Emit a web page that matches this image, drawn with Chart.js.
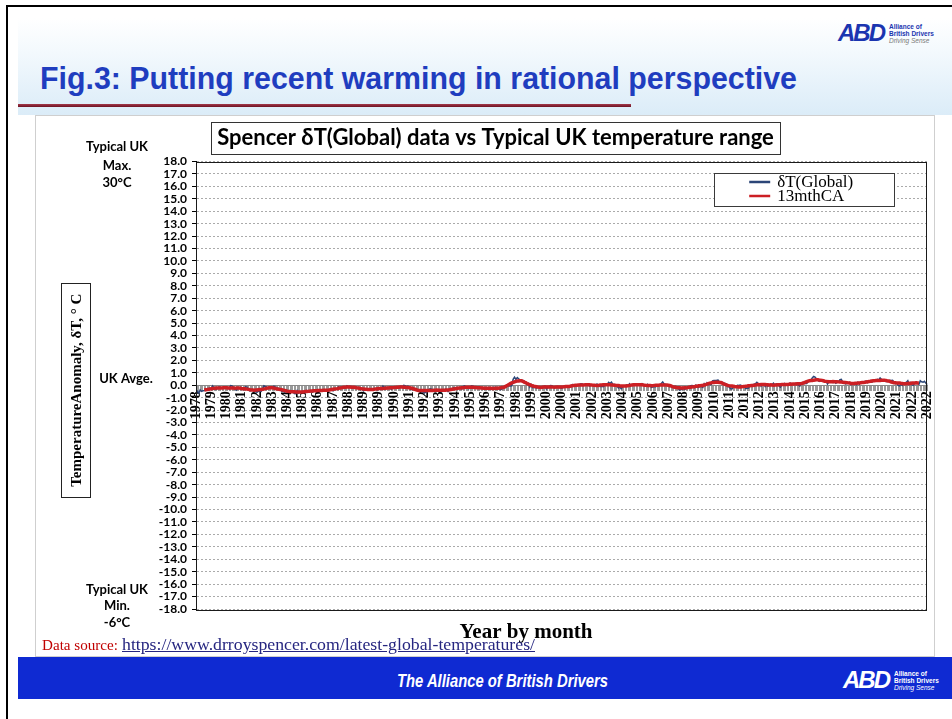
<!DOCTYPE html>
<html>
<head>
<meta charset="utf-8">
<title>Fig.3: Putting recent warming in rational perspective</title>
<script src="https://cdn.jsdelivr.net/npm/chart.js@4.4.1/dist/chart.umd.min.js"></script>
<style>
  body { margin: 0; background: #fff; }
  #page { position: relative; width: 952px; height: 719px; overflow: hidden; font-family: 'Liberation Sans', Arial, sans-serif; }
  .abs { position: absolute; white-space: nowrap; }
  .fit { display: inline-block; transform-origin: 0 0; }
  #frame { left: 6px; top: 5px; width: 960px; height: 730px; border-left: 2px solid #000; border-top: 2px solid #000; }
  #band { left: 18px; top: 18px; width: 934px; height: 97px; background: linear-gradient(#ffffff 0%, #f3f9fd 35%, #dbecf8 100%); }
  #fig { left: 40px; top: 63px; font: bold 31px/31px 'Liberation Sans', Arial, sans-serif; color: #1f3dbf; }
  #rule { left: 18px; top: 104px; width: 613px; height: 3px; background: linear-gradient(#a3394a, #6c1222); }
  #panel { left: 35px; top: 115px; width: 898px; height: 540px; border: 1px solid #cfcfcf; background: #fff; }
  #chartBox { left: 35px; top: 115px; width: 910px; height: 542px; }
  #srcLabel { left: 42px; top: 638px; font: 14px 'Liberation Serif', serif; color: #c00000; }
  #srcUrl { left: 122px; top: 635px; font: 17px 'Liberation Serif', serif; color: #262680; }
  #urlText { text-decoration: underline; }
  #footer { left: 18px; top: 657px; width: 934px; height: 42px; background: #0f2ad2; }
  #footText { left: 397px; top: 671px; font: italic bold 19px/19px 'Liberation Sans', Arial, sans-serif; color: #fff; }
  .logo { display: flex; align-items: center; }
  .logo .abd { font: italic bold 24px/24px 'Liberation Sans', Arial, sans-serif; letter-spacing: -2px; margin-right: 5px; }
  .logo .small { font: bold 6.5px/7px 'Liberation Sans', Arial, sans-serif; }
  .logo .small i { font-weight: normal; }
</style>
</head>
<body>
<div id="page">
  <div id="frame" class="abs"></div>
  <div id="band" class="abs"></div>
  <div class="abs logo" style="left:838px;top:21px;color:#1b35b0">
    <span class="abd">ABD</span>
    <span class="small">Alliance of<br>British Drivers<br><i style="color:#7a7a7a">Driving Sense</i></span>
  </div>
  <div id="fig" class="abs"><span id="figText" class="fit">Fig.3: Putting recent warming in rational perspective</span></div>
  <div id="rule" class="abs"></div>
  <div id="panel" class="abs"></div>
  <div id="chartBox" class="abs"><canvas id="c" width="910" height="542"></canvas></div>
  <div id="srcLabel" class="abs"><span id="srcSpan" class="fit">Data source:</span></div>
  <div id="srcUrl" class="abs"><span id="urlText" class="fit">https://www.drroyspencer.com/latest-global-temperatures/</span></div>
  <div id="footer" class="abs"></div>
  <div id="footText" class="abs"><span id="footSpan" class="fit">The Alliance of British Drivers</span></div>
  <div class="abs logo" style="left:843px;top:668px;color:#fff">
    <span class="abd">ABD</span>
    <span class="small">Alliance of<br>British Drivers<br><i>Driving Sense</i></span>
  </div>
</div>
<script>
// Spencer (UAH) global lower-troposphere anomaly, monthly, Dec 1978 - Dec 2022
const deltaT = [
  -0.48, // 1978 Dec
  -0.47, -0.64, -0.38, -0.50, -0.45, -0.43, -0.40, -0.35, -0.30, -0.23, -0.32, -0.06, // 1979
  -0.19, -0.33, -0.31, -0.18, -0.15, -0.23, -0.21, -0.26, -0.22, -0.26, -0.18, -0.30, // 1980
  -0.03, -0.05, -0.20, -0.29, -0.39, -0.28, -0.24, -0.17, -0.27, -0.36, -0.24, -0.11, // 1981
  -0.16, -0.36, -0.46, -0.36, -0.34, -0.49, -0.47, -0.56, -0.49, -0.47, -0.49, -0.36, // 1982
  -0.05, -0.10, -0.14, -0.21, -0.17, -0.23, -0.20, -0.09, -0.10, -0.30, -0.22, -0.35, // 1983
  -0.34, -0.50, -0.46, -0.55, -0.38, -0.52, -0.44, -0.43, -0.49, -0.50, -0.67, -0.68, // 1984
  -0.44, -0.63, -0.55, -0.55, -0.50, -0.58, -0.58, -0.42, -0.49, -0.47, -0.53, -0.47, // 1985
  -0.36, -0.47, -0.42, -0.36, -0.43, -0.40, -0.46, -0.45, -0.41, -0.39, -0.46, -0.44, // 1986
  -0.37, -0.28, -0.45, -0.32, -0.28, -0.25, -0.13, -0.17, -0.18, -0.24, -0.23, -0.16, // 1987
  -0.05, -0.18, -0.10, -0.10, -0.12, -0.13, -0.13, -0.16, -0.18, -0.19, -0.36, -0.28, // 1988
  -0.46, -0.36, -0.40, -0.34, -0.40, -0.40, -0.29, -0.30, -0.26, -0.28, -0.37, -0.30, // 1989
  -0.32, -0.32, -0.07, -0.20, -0.15, -0.21, -0.23, -0.26, -0.33, -0.18, -0.16, -0.17, // 1990
  -0.18, -0.15, -0.21, -0.07, -0.14, -0.01, -0.04, -0.12, -0.08, -0.21, -0.33, -0.35, // 1991
  -0.24, -0.36, -0.29, -0.41, -0.34, -0.39, -0.54, -0.54, -0.62, -0.54, -0.52, -0.36, // 1992
  -0.29, -0.31, -0.35, -0.37, -0.36, -0.37, -0.40, -0.45, -0.52, -0.49, -0.49, -0.32, // 1993
  -0.38, -0.51, -0.34, -0.30, -0.33, -0.21, -0.24, -0.28, -0.27, -0.24, -0.21, -0.29, // 1994
  -0.09, -0.05, -0.18, -0.18, -0.28, -0.15, -0.05, -0.07, -0.15, -0.16, -0.17, -0.25, // 1995
  -0.19, -0.21, -0.26, -0.28, -0.30, -0.26, -0.24, -0.27, -0.22, -0.28, -0.18, -0.16, // 1996
  -0.27, -0.21, -0.31, -0.35, -0.29, -0.20, -0.17, -0.14, -0.02, -0.06, -0.06, -0.05, // 1997
   0.48,  0.65,  0.47,  0.62,  0.52,  0.42,  0.41,  0.39,  0.33,  0.25,  0.06,  0.14, // 1998
  -0.14,  0.05, -0.19, -0.17, -0.18, -0.22, -0.17, -0.17, -0.16, -0.11, -0.14, -0.07, // 1999
  -0.29, -0.20, -0.15, -0.03, -0.04, -0.14, -0.17, -0.14, -0.11, -0.18, -0.20, -0.24, // 2000
  -0.19, -0.12, -0.14, -0.08, -0.07, -0.05, -0.02,  0.06, -0.07, -0.05, -0.02, -0.02, // 2001
   0.06,  0.12,  0.10,  0.03,  0.03,  0.08,  0.06, -0.06,  0.02,  0.00,  0.03,  0.00, // 2002
   0.08,  0.08, -0.08, -0.10, -0.09, -0.12, -0.03,  0.10,  0.06,  0.23,  0.16,  0.25, // 2003
   0.07,  0.08, -0.05, -0.04, -0.22, -0.13, -0.28, -0.14, -0.05, -0.04,  0.02, -0.06, // 2004
   0.11, -0.05,  0.08,  0.05,  0.02,  0.08,  0.08,  0.02,  0.09,  0.13,  0.06, -0.01, // 2005
  -0.01,  0.07, -0.09, -0.06, -0.17, -0.13, -0.10, -0.11, -0.01,  0.04,  0.04,  0.14, // 2006
   0.27,  0.10,  0.06,  0.01,  0.01, -0.12, -0.08, -0.06, -0.12, -0.09, -0.15, -0.21, // 2007
  -0.38, -0.33, -0.34, -0.22, -0.33, -0.26, -0.14, -0.23, -0.05, -0.02, -0.04, -0.18, // 2008
   0.02, -0.06, -0.17, -0.09, -0.10, -0.17,  0.13, -0.01,  0.19,  0.06,  0.07,  0.06, // 2009
   0.35,  0.38,  0.39,  0.40,  0.42,  0.26,  0.19,  0.23,  0.19,  0.14,  0.08, -0.10, // 2010
  -0.13, -0.28, -0.30, -0.16, -0.16, -0.14,  0.00, -0.02,  0.01, -0.04, -0.13, -0.07, // 2011
  -0.27, -0.25, -0.23, -0.02, -0.07,  0.05,  0.09,  0.12,  0.24,  0.14,  0.13, -0.07, // 2012
   0.09,  0.07, -0.10,  0.04, -0.08,  0.02,  0.01,  0.05,  0.16,  0.00,  0.11,  0.09, // 2013
  -0.06, -0.15,  0.03,  0.05,  0.15,  0.07,  0.02,  0.09,  0.18,  0.14,  0.11,  0.11, // 2014
   0.15,  0.04,  0.03, -0.07,  0.18,  0.22,  0.13,  0.15,  0.15,  0.30,  0.35,  0.39, // 2015
   0.59,  0.71,  0.65,  0.53,  0.40,  0.32,  0.37,  0.42,  0.34,  0.30,  0.33,  0.10, // 2016
   0.28,  0.35,  0.28,  0.21,  0.34,  0.17,  0.24,  0.29,  0.44,  0.47,  0.23,  0.28, // 2017
   0.11,  0.13,  0.15,  0.23,  0.05,  0.08,  0.19,  0.10,  0.04,  0.23,  0.08,  0.27, // 2018
   0.22,  0.26,  0.30,  0.33,  0.20,  0.30,  0.30,  0.25,  0.31,  0.36,  0.41,  0.47, // 2019
   0.42,  0.59,  0.47,  0.38,  0.42,  0.30,  0.31,  0.30,  0.40,  0.38,  0.40,  0.27, // 2020
   0.12,  0.20, -0.01, -0.05,  0.08, -0.01,  0.20,  0.17,  0.25,  0.37,  0.08,  0.21, // 2021
   0.03, -0.00,  0.15,  0.26,  0.17,  0.06,  0.36,  0.28,  0.24,  0.32,  0.17,  0.05  // 2022
];

// the axis shows a year label on every 11th month
const tickEvery = 11;
const yearTicks = ['1978', '1979', '1980', '1981', '1982', '1983', '1984', '1985', '1986', '1987',
  '1988', '1989', '1989', '1990', '1991', '1992', '1993', '1994', '1995', '1996', '1997', '1998',
  '1999', '2000', '2000', '2001', '2002', '2003', '2004', '2005', '2006', '2007', '2008', '2009',
  '2010', '2011', '2011', '2012', '2013', '2014', '2015', '2016', '2017', '2018', '2019', '2020',
  '2021', '2022', '2022'];

const monthNames = ['Jan', 'Feb', 'Mar', 'Apr', 'May', 'Jun', 'Jul', 'Aug', 'Sep', 'Oct', 'Nov', 'Dec'];
const monthLabels = deltaT.map((_, i) => monthNames[(11 + i) % 12] + ' ' + (1978 + Math.floor((11 + i) / 12)));

// 13 month centred average of the series above (what the red line is)
const ca13 = deltaT.map((_, i) => {
  if (i < 6 || i > deltaT.length - 7) return null;
  const win = deltaT.slice(i - 6, i + 7);
  return win.reduce((s, v) => s + v, 0) / win.length;
});

const chartTitle = 'Spencer δT(Global) data vs Typical UK temperature range';
const yTitle = 'TemperatureAnomaly, δT, ° C';
const xTitle = 'Year by month';

function fitWidth(id, w) {
  const el = document.getElementById(id);
  el.style.transform = 'scaleX(' + (w / el.getBoundingClientRect().width) + ')';
}
fitWidth('figText', 757);
fitWidth('srcSpan', 76);
fitWidth('urlText', 413);
fitWidth('footSpan', 211);

Chart.defaults.font.family = 'Lato';

// boxes, side notes, axis titles and legend drawn around the plot
const decor = {
  id: 'decor',
  afterDraw(chart) {
    const { ctx, chartArea: a, scales } = chart;
    const y0 = scales.y.getPixelForValue(0);
    const mid = (a.top + a.bottom) / 2;
    ctx.save();

    ctx.strokeStyle = '#1a1a1a';
    ctx.lineWidth = 1;
    ctx.strokeRect(Math.round(a.left) + 0.5, Math.round(a.top) + 0.5, Math.round(a.width) - 1, Math.round(a.height));

    const tb = chart.titleBlock;
    ctx.font = 'bold 22px Lato';
    const tw = ctx.measureText(chartTitle).width;
    const cx = (tb.left + tb.right) / 2;
    ctx.strokeStyle = '#333';
    ctx.strokeRect(Math.round(cx - tw / 2 - 6) + 0.5, 7.5, Math.round(tw + 12), 32);

    ctx.fillStyle = '#000';
    ctx.textAlign = 'center';
    ctx.textBaseline = 'middle';
    ctx.font = 'bold 13px Lato';
    const nx = a.left - 79;
    ctx.fillText('Typical UK', nx, a.top - 15);
    ctx.fillText('Max.', nx, a.top + 4);
    ctx.fillText('30°C', nx, a.top + 21);
    ctx.fillText('UK Avge.', a.left - 70, y0 - 6);
    ctx.fillText('Typical UK', nx, a.bottom - 19);
    ctx.fillText('Min.', nx, a.bottom - 3);
    ctx.fillText('-6°C', nx, a.bottom + 14);

    ctx.strokeStyle = '#222';
    ctx.strokeRect(Math.round(a.left - 135) + 0.5, Math.round(mid - 102) + 0.5, 29, 214);
    ctx.save();
    ctx.translate(a.left - 119, mid + 5);
    ctx.rotate(-Math.PI / 2);
    ctx.font = 'bold 15px "Liberation Serif"';
    ctx.fillText(yTitle, 0, 0);
    ctx.restore();

    ctx.font = 'bold 21px "Liberation Serif"';
    ctx.fillText(xTitle, a.left + 330, a.bottom + 24);

    const lx = a.right - 213, ly = a.top + 11.5;
    ctx.fillStyle = '#fff';
    ctx.fillRect(lx, ly, 180, 33);
    ctx.strokeStyle = '#3a3a3a';
    ctx.strokeRect(Math.round(lx) + 0.5, Math.round(ly) + 0.5, 180, 33);
    ctx.font = '17px "Liberation Serif"';
    ctx.textAlign = 'left';
    chart.data.datasets.forEach((ds, i) => {
      const yy = ly + 9 + i * 14;
      ctx.strokeStyle = ds.borderColor;
      ctx.lineWidth = 2.5;
      ctx.beginPath();
      ctx.moveTo(lx + 35, yy);
      ctx.lineTo(lx + 56, yy);
      ctx.stroke();
      ctx.fillStyle = '#000';
      ctx.fillText(ds.label, lx + 63, yy + 1);
    });
    ctx.restore();
  }
};

new Chart(document.getElementById('c'), {
  type: 'line',
  data: {
    labels: monthLabels,
    datasets: [
      { label: 'δT(Global)', data: deltaT, borderColor: '#2c4677', borderWidth: 1.5, pointRadius: 0, tension: 0, order: 2 },
      { label: '13mthCA', data: ca13, borderColor: '#cc1f24', borderWidth: 3.5, pointRadius: 0, tension: 0, order: 1 }
    ]
  },
  options: {
    responsive: false,
    animation: false,
    events: [],
    layout: { padding: { left: 11, right: 0, top: 0, bottom: 48 } },
    plugins: {
      legend: { display: false },
      tooltip: { enabled: false },
      title: {
        display: true,
        text: chartTitle,
        color: '#000',
        font: { family: 'Lato', weight: 'bold', size: 22 },
        padding: { top: 10, bottom: 10.1 }
      }
    },
    scales: {
      x: {
        type: 'category',
        position: { y: 0 },
        grid: { drawOnChartArea: false, drawTicks: true, tickLength: 5, color: '#9a9a9a', lineWidth: 1 },
        border: { display: true, color: '#8a8a8a' },
        ticks: {
          autoSkip: false,
          minRotation: 90,
          maxRotation: 90,
          padding: 1,
          color: '#000',
          font: { family: 'Liberation Serif', weight: 'bold', size: 14 },
          callback: (v, i) => (i % tickEvery === 0 ? yearTicks[i / tickEvery] : '')
        }
      },
      y: {
        min: -18,
        max: 18,
        afterFit: (s) => { s.width = 150; },
        grid: { color: '#aaaaaa', lineWidth: 1, tickLength: 4, tickColor: '#000', tickBorderDash: [] },
        border: { display: true, color: '#000', dash: [2, 2] },
        ticks: {
          stepSize: 1,
          autoSkip: false,
          padding: 5,
          color: '#000',
          font: { family: 'Lato', weight: 'bold', size: 12 },
          callback: (v) => Number(v).toFixed(1)
        }
      }
    }
  },
  plugins: [decor]
});
</script>
</body>
</html>
